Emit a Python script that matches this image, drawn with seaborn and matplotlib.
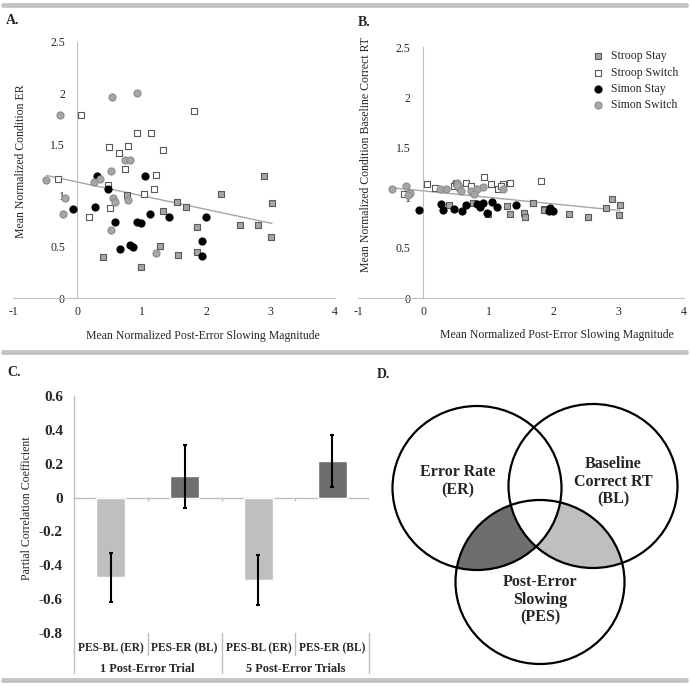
import numpy as np
import pandas as pd
import matplotlib
matplotlib.use('Agg')
import matplotlib.pyplot as plt
import seaborn as sns
from matplotlib.patches import Ellipse
from matplotlib.lines import Line2D

# ---- data ----
conditions = ['Stroop Stay', 'Stroop Switch', 'Simon Stay', 'Simon Switch']

stroop_stay_pes = [0.77, 0.40, 0.99, 1.29, 1.33, 1.54, 1.69, 1.56, 1.85, 1.86, 2.23, 2.52, 2.80, 2.89, 3.02, 3.01]
stroop_stay_er = [1.01, 0.40, 0.30, 0.51, 0.85, 0.94, 0.89, 0.42, 0.69, 0.45, 1.02, 0.71, 0.71, 1.19, 0.93, 0.60]
stroop_stay_bl = [0.95, 0.93, 0.84, 0.92, 0.84, 0.85, 0.95, 0.81, 0.89, 0.88, 0.84, 0.81, 0.90, 0.99, 0.93, 0.83]

stroop_switch_pes = [-0.30, 0.06, 0.18, 0.49, 0.65, 0.79, 0.93, 1.14, 1.33, 0.74, 0.48, 1.22, 1.19, 1.04, 0.51, 1.81]
stroop_switch_er = [1.16, 1.79, 0.79, 1.47, 1.42, 1.48, 1.61, 1.61, 1.45, 1.26, 1.10, 1.20, 1.06, 1.02, 0.88, 1.83]
stroop_switch_bl = [1.04, 1.14, 1.10, 1.13, 1.15, 1.09, 1.21, 1.09, 1.15, 1.12, 1.12, 1.14, 1.12, 1.14, 1.15, 1.17]

simon_stay_pes = [-0.07, 0.30, 0.27, 0.47, 0.59, 0.66, 0.82, 0.87, 0.92, 0.98, 1.05, 1.13, 1.42, 1.94, 1.93, 1.99]
simon_stay_er = [0.87, 1.19, 0.89, 1.06, 0.74, 0.48, 0.52, 0.50, 0.74, 0.73, 1.19, 0.82, 0.79, 0.56, 0.41, 0.79]
simon_stay_bl = [0.88, 0.88, 0.94, 0.89, 0.87, 0.93, 0.94, 0.91, 0.95, 0.85, 0.96, 0.91, 0.93, 0.90, 0.87, 0.87]

simon_switch_pes = [-0.48, -0.27, -0.20, -0.23, 0.26, 0.35, 0.54, 0.92, 0.52, 0.74, 0.82, 0.55, 0.58, 0.78, 0.52, 1.22]
simon_switch_er = [1.15, 1.79, 0.98, 0.82, 1.13, 1.16, 1.96, 2.00, 1.24, 1.35, 1.35, 0.98, 0.94, 0.96, 0.66, 0.44]
simon_switch_bl = [1.09, 1.12, 1.05, 1.03, 1.09, 1.09, 1.13, 1.11, 1.15, 1.07, 1.09, 1.10, 1.07, 1.04, 1.13, 1.09]

bar_keys = ['1-BL', '1-ER', '5-BL', '5-ER']
bar_labels = ['PES-BL (ER)', 'PES-ER (BL)', 'PES-BL (ER)', 'PES-ER (BL)']
trial_groups = ['1 Post-Error Trial', '5 Post-Error Trials']
partial_r = [-0.47, 0.125, -0.487, 0.215]
partial_err = [0.145, 0.185, 0.145, 0.152]
c_ticks = [-0.8, -0.6, -0.4, -0.2, 0, 0.2, 0.4, 0.6]

venn_labels = ['Error Rate\n(ER)', 'Baseline\nCorrect RT\n(BL)', 'Post-Error\nSlowing\n(PES)']

# ---- build long table ----
frames = []
for name, pes, er, bl in zip(
        conditions,
        [stroop_stay_pes, stroop_switch_pes, simon_stay_pes, simon_switch_pes],
        [stroop_stay_er, stroop_switch_er, simon_stay_er, simon_switch_er],
        [stroop_stay_bl, stroop_switch_bl, simon_stay_bl, simon_switch_bl]):
    frames.append(pd.DataFrame({'condition': name, 'pes': pes, 'er': er, 'bl': bl}))
df = pd.concat(frames, ignore_index=True)

styles = {
    'Stroop Stay':   dict(marker='s', fc='#a6a6a6', ec='#595959', s=24),
    'Stroop Switch': dict(marker='s', fc='white',   ec='#595959', s=24),
    'Simon Stay':    dict(marker='o', fc='black',   ec='black',   s=26),
    'Simon Switch':  dict(marker='o', fc='#a6a6a6', ec='#8c8c8c', s=26),
}

sns.set_style('white')
plt.rcParams['font.family'] = ['Liberation Serif', 'DejaVu Serif']
plt.rcParams['axes.unicode_minus'] = False

W, H = 690, 687
AXC = '#bfbfbf'
TXT = '#262626'


def box(x0, y0, x1, y1):
    return [x0 / W, 1 - y1 / H, (x1 - x0) / W, (y1 - y0) / H]


fig = plt.figure(figsize=(W / 100, H / 100), dpi=100)


def scatter_panel(rect, ycol, ylabel, label_y, xlabel_x):
    ax = fig.add_axes(rect)
    for name in conditions:
        st = styles[name]
        sub = df[df['condition'] == name]
        sns.scatterplot(data=sub, x='pes', y=ycol, marker=st['marker'], color=st['fc'],
                        edgecolor=st['ec'], linewidth=0.8, s=st['s'], ax=ax,
                        label=name, legend=False, zorder=3)
    sns.regplot(data=df, x='pes', y=ycol, scatter=False, ci=None, ax=ax,
                line_kws=dict(color='#a6a6a6', lw=1, zorder=2))
    ax.set_xlim(-1, 4)
    ax.set_ylim(0, 2.5)
    ax.spines['left'].set_position(('data', 0))
    for s in ['top', 'right']:
        ax.spines[s].set_visible(False)
    for s in ['left', 'bottom']:
        ax.spines[s].set_color(AXC)
    ax.set_xticks(range(-1, 5))
    ax.set_xticklabels([f'{v:g}' for v in range(-1, 5)])
    yt = [0, 0.5, 1, 1.5, 2, 2.5]
    ax.set_yticks(yt)
    ax.set_yticklabels([f'{v:g}' for v in yt])
    ax.tick_params(direction='out', length=3, color=AXC, labelsize=8.5,
                   labelcolor=TXT, pad=3)
    ax.tick_params(axis='y', pad=6)
    ax.set_ylabel(ylabel, fontsize=8.5, color=TXT)
    ax.yaxis.set_label_coords(0.043, label_y)
    ax.set_xlabel('Mean Normalized Post-Error Slowing Magnitude', fontsize=8.5, color=TXT)
    ax.xaxis.set_label_coords(xlabel_x, -0.125)
    return ax


axA = scatter_panel(box(13, 42, 335, 298), 'er', 'Mean Normalized Condition ER', 0.535, 0.59)
if axA.get_legend() is not None:
    axA.get_legend().remove()

axB = scatter_panel(box(358, 47, 684, 298), 'bl',
                    'Mean Normalized Condition Baseline Correct RT', 0.57, 0.61)
axB.legend(loc='upper left', bbox_to_anchor=(0.685, 1.005), frameon=False,
           fontsize=8.5, handletextpad=0.1, labelspacing=0.35, borderaxespad=0,
           labelcolor=TXT)

# ---- panel C ----
axC = fig.add_axes(box(74, 396, 369, 633))
sns.barplot(x=bar_keys, y=partial_r, hue=bar_keys,
            palette=['#bfbfbf', '#6e6e6e', '#bfbfbf', '#6e6e6e'],
            width=0.39, legend=False, ax=axC, zorder=2)
axC.errorbar(range(len(bar_keys)), partial_r, yerr=partial_err, fmt='none',
             ecolor='black', elinewidth=1.5, capsize=1.5, capthick=1.5, zorder=3)
axC.set_xlim(-0.5, 3.5)
axC.set_ylim(-0.8, 0.6)
for s in axC.spines.values():
    s.set_visible(False)
axC.axhline(0, color=AXC, lw=1, zorder=1)
axC.vlines([0.5, 1.5, 2.5, 3.5], 0, -0.02, color=AXC, lw=1)
axC.set_yticks(c_ticks)
axC.set_yticklabels([f'{v:g}' for v in c_ticks], fontweight='bold', fontsize=11, color=TXT)
axC.tick_params(axis='y', length=0, pad=8)
axC.set_xticks([])
axC.set_xlabel('')
axC.set_ylabel('Partial Correlation Coefficient', fontsize=8.5, color=TXT)
axC.yaxis.set_label_coords(-0.14, 0.525)

trans = axC.get_xaxis_transform()
axC.plot([-0.5, -0.5], [1, -0.169], color=AXC, lw=1, transform=trans, clip_on=False)
for xb in [0.5, 1.5, 2.5, 3.5]:
    low = -0.169 if xb in (1.5, 3.5) else -0.093
    axC.plot([xb, xb], [0, low], color=AXC, lw=1, transform=trans, clip_on=False)
for i, lab in enumerate(bar_labels):
    axC.text(i, -0.063, lab, transform=trans, ha='center', va='center',
             fontsize=8.3, fontweight='bold', color=TXT)
for j, grp in enumerate(trial_groups):
    axC.text(2 * j + 0.5, -0.152, grp, transform=trans, ha='center', va='center',
             fontsize=8.8, fontweight='bold', color=TXT)

# ---- panel D (Venn) ----
axD = fig.add_axes(box(370, 380, 690, 680))
axD.set_xlim(370, 690)
axD.set_ylim(680, 380)
axD.axis('off')
centers = {'ER': (477, 488), 'BL': (593, 486), 'PES': (540, 582)}
ew, eh = 169, 164


def ell(key, **kw):
    return Ellipse(centers[key], ew, eh, transform=axD.transData, **kw)


p = ell('PES', fc='#6e6e6e', ec='none')
axD.add_patch(p)
p.set_clip_path(ell('ER'))
p = ell('PES', fc='#bfbfbf', ec='none')
axD.add_patch(p)
p.set_clip_path(ell('BL'))
p = ell('ER', fc='white', ec='none')
axD.add_patch(p)
p.set_clip_path(ell('BL'))
for key in centers:
    axD.add_patch(ell(key, fill=False, ec='black', lw=1.6))

for (tx, ty), lab in zip([(458, 481), (613, 482), (540, 600)], venn_labels):
    axD.text(tx, ty, lab, ha='center', va='center', fontsize=11.5,
             fontweight='bold', color=TXT, linespacing=1.15)

# ---- panel letters and separators ----
for (tx, ty), lab in zip([(6, 21), (358, 22), (7, 373), (377, 374)], ['A.', 'B.', 'C.', 'D.']):
    fig.text(tx / W, 1 - ty / H, lab, fontsize=10, fontweight='bold', va='center', ha='left')

for yy in [5, 352, 680]:
    fig.add_artist(Line2D([3 / W, 686 / W], [1 - yy / H, 1 - yy / H],
                          color='#c4c4c4', lw=3.5))

fig.savefig('out.png', dpi=100)
